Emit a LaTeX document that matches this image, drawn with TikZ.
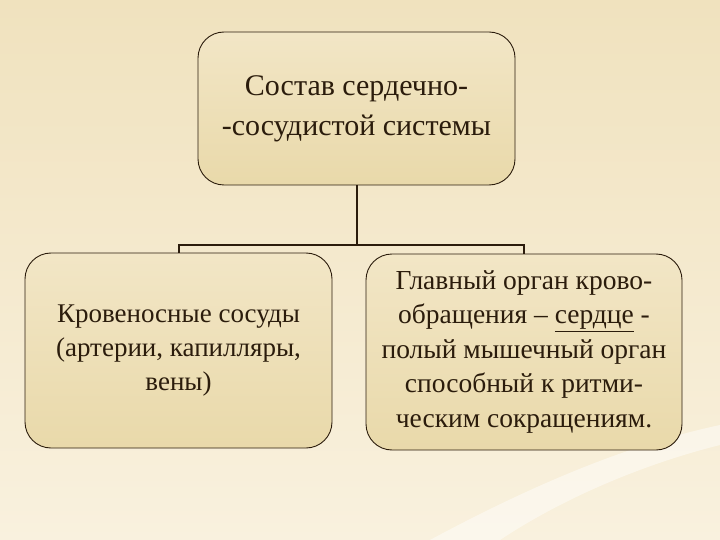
\documentclass[tikz,border=0pt]{standalone}
\usepackage{fontspec}
\setmainfont{Liberation Serif}
\definecolor{ink}{RGB}{43,28,12}
\definecolor{bgtop}{RGB}{240,226,190}
\definecolor{bgbot}{RGB}{249,241,222}
\definecolor{boxtop}{RGB}{242,230,198}
\definecolor{boxbot}{RGB}{233,217,170}
\begin{document}
\begin{tikzpicture}[x=1pt,y=-1pt,
  box/.style={draw=ink, line width=0.9pt, rounded corners=26pt,
    top color=boxtop, bottom color=boxbot, text=ink, align=center,
    inner sep=0pt},
  conn/.style={draw=ink, line width=2pt}]
\shade[top color=bgtop, bottom color=bgbot] (0,0) rectangle (720,540);
\useasboundingbox (0,0) rectangle (720,540);
\fill[white, opacity=0.45] (430,540) .. controls (560,470) and (650,440) .. (720,425)
  -- (720,445) .. controls (640,465) and (560,500) .. (500,540) -- cycle;
\node[box, minimum width=317pt, minimum height=153pt, font=\fontsize{30}{40}\selectfont]
  (top) at (356.5,108.5) {Состав сердечно-\\-сосудистой системы};
\node[box, minimum width=307pt, minimum height=195pt, font=\fontsize{27}{34}\selectfont]
  (left) at (178.5,350.5) {Кровеносные сосуды\\(артерии, капилляры,\\вены)};
\node[box, minimum width=316pt, minimum height=196pt, font=\fontsize{27.5}{34.5}\selectfont]
  (right) at (524,352) {Главный орган крово-\\обращения – \underline{сердце} -\\полый мышечный орган\\способный к ритми-\\ческим сокращениям.};
\draw[conn] (top.south) -- ++(0,60) coordinate (j);
\draw[conn] (left.north) |- (j) -| (right.north);
\end{tikzpicture}
\end{document}
